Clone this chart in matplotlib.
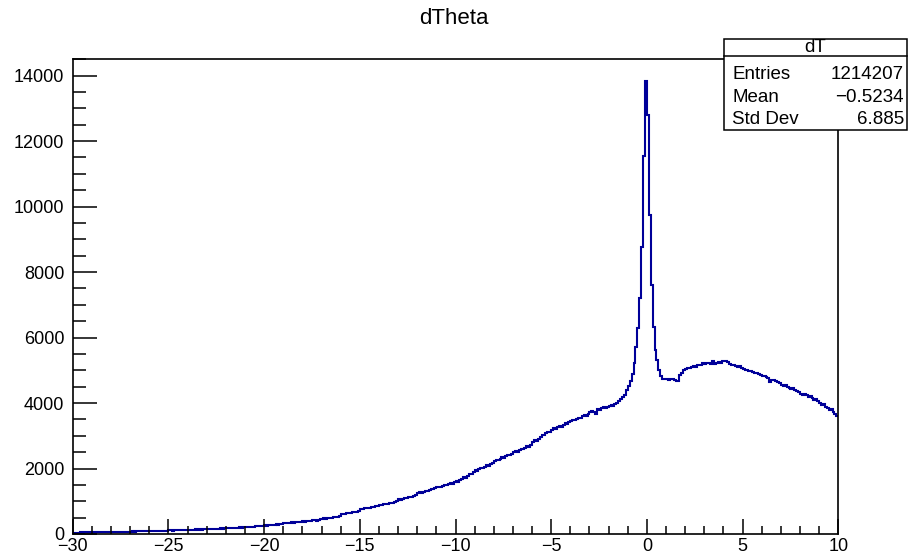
import numpy as np
import matplotlib.pyplot as plt
from matplotlib.ticker import MultipleLocator
from matplotlib.patches import Rectangle
from matplotlib.lines import Line2D

plt.rcParams['font.family'] = ['Liberation Sans', 'DejaVu Sans']

# histogram dT: 400 bins from -30 to 10
x_lo, x_hi, n_bins = -30.0, 10.0, 400

# counts per bin, one row per unit of dTheta
tail = [
    38, 41, 45, 40, 47, 44, 49, 46, 52, 48,            # -30
    50, 47, 53, 55, 51, 58, 54, 60, 57, 62,            # -29
    59, 64, 61, 67, 63, 70, 66, 72, 69, 75,            # -28
    72, 78, 74, 80, 77, 83, 79, 86, 82, 88,            # -27
    85, 91, 88, 95, 92, 98, 94, 101, 104, 100,         # -26
    108, 112, 106, 115, 118, 113, 121, 117, 124, 120,  # -25
    127, 131, 125, 134, 138, 132, 141, 137, 145, 140,  # -24
    148, 153, 146, 157, 161, 155, 164, 170, 163, 168,  # -23
    174, 180, 172, 185, 190, 183, 195, 201, 194, 206,  # -22
    212, 205, 219, 226, 217, 232, 240, 231, 247, 254,  # -21
    262, 251, 270, 281, 268, 290, 298, 285, 306, 315,  # -20
    322, 336, 328, 345, 352, 340, 361, 370, 358, 378,  # -19
    386, 375, 395, 404, 392, 415, 423, 410, 434, 445,  # -18
]
rise = [
    462, 476, 470, 488, 500, 494, 515, 530, 522, 548,            # -17
    600, 615, 608, 632, 648, 640, 665, 682, 674, 705,            # -16
    770, 765, 782, 795, 788, 808, 822, 815, 840, 855,            # -15
    890, 876, 902, 918, 910, 938, 955, 946, 978, 996,            # -14
    1060, 1045, 1075, 1096, 1085, 1118, 1140, 1129, 1165, 1188,  # -13
    1245, 1270, 1258, 1296, 1320, 1308, 1348, 1372, 1360, 1400,  # -12
    1425, 1450, 1438, 1478, 1502, 1490, 1530, 1555, 1542, 1585,  # -11
    1610, 1598, 1650, 1690, 1740, 1725, 1780, 1840, 1825, 1890,  # -10
    1940, 1925, 1985, 2020, 2005, 2060, 2095, 2080, 2140, 2180,  # -9
    2225, 2265, 2248, 2305, 2340, 2322, 2380, 2415, 2398, 2450,  # -8
    2495, 2535, 2518, 2570, 2605, 2588, 2640, 2680, 2662, 2720,  # -7
    2820, 2865, 2845, 2910, 2960, 3030, 3010, 3080, 3125, 3105,  # -6
    3180, 3225, 3205, 3262, 3300, 3282, 3340, 3378, 3360, 3410,  # -5
    3450, 3490, 3470, 3520, 3555, 3538, 3590, 3625, 3605, 3660,  # -4
    3720, 3755, 3738, 3660, 3805, 3790, 3838, 3865, 3848, 3880,  # -3
    3905, 3938, 3920, 3965, 3990, 4060, 4110, 4175, 4260, 4400,  # -2
]
peak = [
    4520, 4680, 4880, 5230, 5720, 6300, 7210, 8770, 11530, 13830,  # -1
    12790, 9750, 7600, 6330, 5630, 5320, 5010, 4810, 4740, 4725,   # 0
]
bump = [
    4735, 4712, 4745, 4720, 4705, 4680, 4665, 4870, 4905, 5010,  # 1
    5050, 5075, 5060, 5110, 5130, 5112, 5150, 5175, 5160, 5210,  # 2
    5200, 5225, 5212, 5190, 5285, 5205, 5230, 5245, 5228, 5275,  # 3
    5290, 5270, 5255, 5180, 5150, 5170, 5135, 5110, 5125, 5080,  # 4
    5040, 5020, 5005, 4985, 4970, 4945, 4930, 4905, 4880, 4860,  # 5
    4840, 4815, 4790, 4760, 4640, 4710, 4690, 4665, 4640, 4600,  # 6
    4560, 4530, 4545, 4500, 4470, 4420, 4445, 4400, 4375, 4340,  # 7
    4290, 4255, 4270, 4230, 4195, 4210, 4140, 4100, 4120, 4050,  # 8
    3990, 3950, 3965, 3890, 3850, 3800, 3830, 3720, 3680, 3590,  # 9
]

counts = np.array(tail + rise + peak + bump, dtype=float)
edges = np.linspace(x_lo, x_hi, n_bins + 1)

title = 'dTheta'
stat_name = 'dT'
stat_rows = [('Entries', '1214207'), ('Mean', '\u22120.5234'), ('Std Dev', '6.885')]

W, H = 910, 556
fig = plt.figure(figsize=(W / 100, H / 100), dpi=100, facecolor='white')
ax = fig.add_axes([72.7 / W, 1 - 534 / H, (838.3 - 72.7) / W, (534 - 58.5) / H])

ax.stairs(counts, edges, baseline=None, color='#000099', linewidth=1.5)

ax.set_xlim(x_lo, x_hi)
ax.set_ylim(0, 1.05 * counts.max())

for s in ax.spines.values():
    s.set_linewidth(1.2)
    s.set_color('black')

ax.xaxis.set_major_locator(MultipleLocator(5))
ax.xaxis.set_minor_locator(MultipleLocator(1))
ax.yaxis.set_major_locator(MultipleLocator(2000))
ax.yaxis.set_minor_locator(MultipleLocator(500))
ax.tick_params(axis='x', which='major', direction='in', length=10.5, width=1.1,
               labelsize=13, pad=3, top=False)
ax.tick_params(axis='x', which='minor', direction='in', length=5.5, width=1.1, top=False)
ax.tick_params(axis='y', which='major', direction='in', length=17, width=1.1,
               labelsize=13, pad=6, right=False)
ax.tick_params(axis='y', which='minor', direction='in', length=9, width=1.1, right=False)

fig.text(454 / W, 1 - 19 / H, title, ha='center', va='center', fontsize=16)

# stats box
bx0, bx1, by0, by1, by_sep = 724, 907, 38.5, 130, 55.5
fig.patches.append(Rectangle((bx0 / W, 1 - by1 / H), (bx1 - bx0) / W, (by1 - by0) / H,
                             transform=fig.transFigure, facecolor='white',
                             edgecolor='black', linewidth=1.1, zorder=5))
fig.lines.append(Line2D([bx0 / W, bx1 / W], [1 - by_sep / H] * 2,
                        transform=fig.transFigure, color='black', linewidth=1.1, zorder=6))
fig.text((bx0 + bx1) / 2 / W, 1 - 47 / H, stat_name, ha='center', va='center',
         fontsize=13.5, zorder=7)
for i, (name, val) in enumerate(stat_rows):
    yy = 1 - (74 + 23 * i) / H
    fig.text(732 / W, yy, name, ha='left', va='center', fontsize=13.5, zorder=7)
    fig.text(904 / W, yy, val, ha='right', va='center', fontsize=13.5, zorder=7)

fig.savefig('out.png', dpi=100, facecolor='white')
